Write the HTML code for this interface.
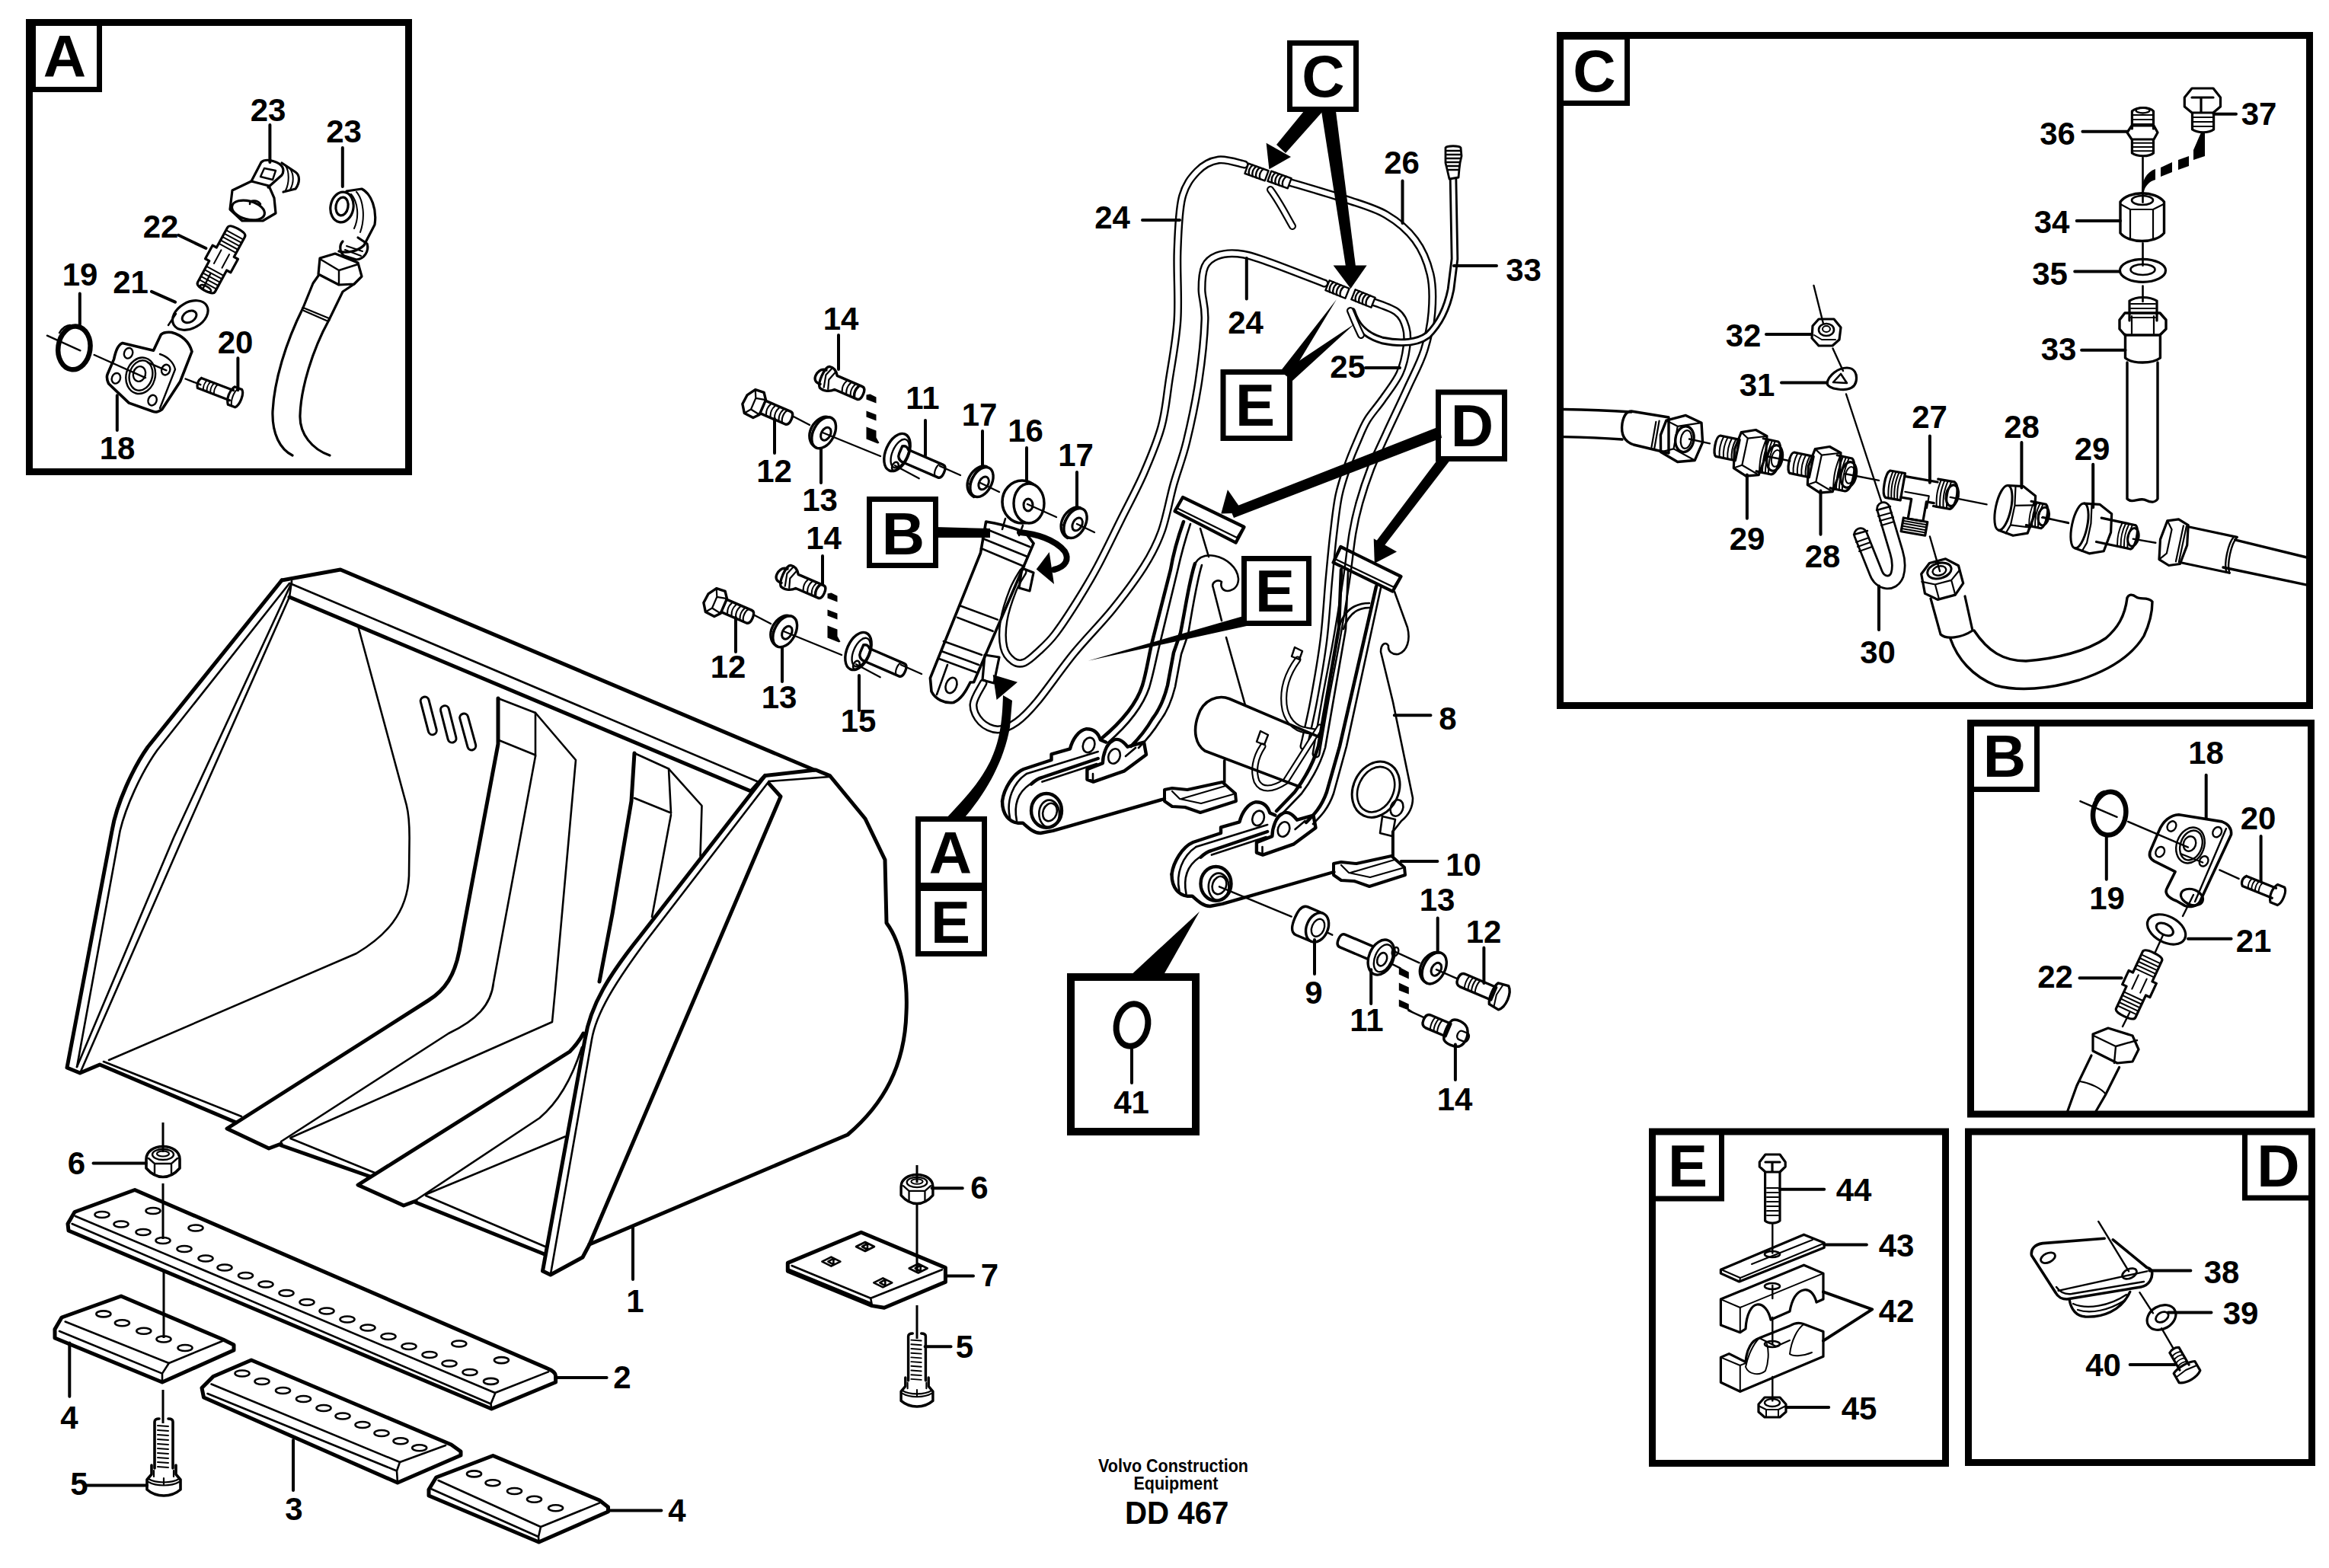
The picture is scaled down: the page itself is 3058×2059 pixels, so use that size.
<!DOCTYPE html>
<html><head><meta charset="utf-8"><style>
html,body{margin:0;padding:0;background:#fff;width:3058px;height:2059px;overflow:hidden}
svg{display:block}
.n text{font-family:"Liberation Sans",sans-serif;font-weight:bold;font-size:42px;text-anchor:middle;fill:#000}
.L text{font-family:"Liberation Sans",sans-serif;font-weight:bold;font-size:78px;text-anchor:middle;fill:#000}
</style></head><body>
<svg width="3058" height="2059" viewBox="0 0 3058 2059" xmlns="http://www.w3.org/2000/svg">
<g fill="none" stroke="#000" stroke-linejoin="round" stroke-linecap="round">
<g id="frames">
<g stroke-width="9" stroke-linejoin="miter" stroke-linecap="butt">
<rect x="38.5" y="29.5" width="498" height="590"/>
<rect x="2048.5" y="46.5" width="984" height="880"/>
<rect x="2587.5" y="949.5" width="447" height="513.5"/>
<rect x="2169.5" y="1486" width="385" height="435.5"/>
<rect x="2584.5" y="1486" width="451" height="434.5"/>
</g>
<rect x="1406" y="1283" width="164" height="203" stroke-width="10" stroke-linejoin="miter"/>
<g stroke-width="7" stroke-linejoin="miter" stroke-linecap="butt">
<rect x="43.5" y="30.5" width="87" height="87"/>
<rect x="1693.5" y="56.5" width="87" height="87"/>
<rect x="2049.5" y="48.5" width="87" height="87"/>
<rect x="1141.5" y="655.5" width="87" height="87"/>
<rect x="1606" y="488.5" width="87.5" height="87"/>
<rect x="1888.5" y="515" width="87" height="87.5"/>
<rect x="1633.5" y="733.5" width="85" height="85"/>
<rect x="1205.5" y="1075.5" width="87" height="87"/>
<rect x="1205.5" y="1166.5" width="87" height="86"/>
<rect x="2588.5" y="950.5" width="86" height="86"/>
<rect x="2169.5" y="1486" width="91" height="88"/>
<rect x="2947.5" y="1486" width="89" height="87"/>
</g>
<g class="L" stroke="none" fill="#000">
<text x="85" y="101">A</text>
<text x="1737.5" y="127">C</text>
<text x="2093.5" y="120">C</text>
<text x="1186" y="728">B</text>
<text x="1648" y="559">E</text>
<text x="1933" y="586">D</text>
<text x="1674" y="803">E</text>
<text x="1248" y="1147">A</text>
<text x="1248" y="1238">E</text>
<text x="2632" y="1020">B</text>
<text x="2216" y="1558">E</text>
<text x="2991.5" y="1558">D</text>
</g>

</g>
<g id="bucket">
<g stroke-width="5">
<path d="M370,762 L447,748 L1069,1011"/>
<path d="M370,762 L194,981 C175,1008 153,1055 147,1091 L88,1402 L105,1409 L131,1398 L310,1474"/>
<path d="M380,784 L986,1039 L1004.5,1018.5 L1071,1011 L1089.5,1018.5 L1136,1075 L1162,1129 L1164,1212 C1185,1240 1192,1290 1190,1330 C1188,1400 1160,1450 1113,1490 L774,1634"/>
<path d="M1004.5,1018.5 L840,1230 C800,1280 775,1320 768,1365 L712.5,1669 L722.8,1674 L765,1651 L774,1634 L1025,1046 L1009.6,1028.8"/>
<path d="M654,917 L654,977 L603,1249 C597,1280 585,1300 562,1314 L298,1482 L353,1508 L369,1502"/>
<path d="M833,989 L829,1052 L804,1200 L787,1289"/>
<path d="M766,1357 C760,1368 755,1374 748,1381 L470,1556 L530,1583 L546,1577"/>
<path d="M369,1504 L486,1545"/>
<path d="M546,1579 L715,1647"/>
</g>
<g stroke-width="2.6">
<path d="M383,767 L994,1026"/>
<path d="M383,763 L380,784"/>
<path d="M380,766 L206.5,985 C185,1015 165,1060 157.6,1091 L101,1401"/>
<path d="M383,765 L228,1100 L101,1401"/>
<path d="M380,784 L240,1100 L106,1407"/>
<path d="M470.6,824 L533.7,1057 C537,1070 537.6,1085 537.6,1100 L537,1150 C535,1200 505,1230 468,1252 L143,1392"/>
<path d="M136,1394 L317,1466"/>
<path d="M654,917 L703,936 L703,993"/>
<path d="M655,972 L703,991.5"/>
<path d="M703,993 L648,1290 C645,1320 625,1340 589,1357 L369,1499"/>
<path d="M703,936 L756,998 L729,1300 L725,1342 L381.5,1494"/>
<path d="M381.5,1495 L492,1540"/>
<path d="M833,989 L878,1009.5 L881,1067.5"/>
<path d="M833,1048 L881,1067.5"/>
<path d="M881,1070 L856,1204"/>
<path d="M764,1375 C750,1420 730,1450 708.6,1468 L546,1576"/>
<path d="M878,1009.5 L921.5,1058 L919.5,1124"/>
<path d="M742,1492.5 L559,1568.5"/>
<path d="M559,1570 L716,1637"/>
<path d="M1009.6,1026 L848,1236 C808,1290 783,1330 777,1365 L722.8,1674"/>
<path d="M1009.6,1026 L1089.5,1020"/>

</g>
<g stroke-width="2.6">
<path d="M557.7,920.6 L567.8,959.3" stroke-width="14"/>
<path d="M584,932.2 L593.5,969.6" stroke-width="14"/>
<path d="M609.2,942.5 L619.3,979.4" stroke-width="14"/>
<path d="M557.7,920.6 L567.8,959.3" stroke-width="8" stroke="#fff"/>
<path d="M584,932.2 L593.5,969.6" stroke-width="8" stroke="#fff"/>
<path d="M609.2,942.5 L619.3,979.4" stroke-width="8" stroke="#fff"/>
</g>

</g>
<g id="edges">
<g stroke-width="5">
<path d="M98,1591.5 L177,1562.5 L718,1796.6 Q729.6,1801 729.6,1807 L729.6,1815 L645.4,1850 L90,1616 L89,1607 Z"/>
<path d="M81,1730 L159,1702 L293,1759 L307,1766 L307,1773 L213,1815 L72,1757 L72,1745.5 Z"/>
<path d="M280,1807.5 L330,1786 L592.5,1897 L605,1906 L605,1911 L522,1947 L267.5,1835 L265,1822.5 Z"/>
<path d="M572.7,1940 L647.3,1911.5 L787,1970 L798.5,1979 L798.5,1985 L707.5,2025 L563,1964 L563,1956 Z"/>
<path d="M1034.3,1658.4 L1130.7,1618.2 L1241.4,1664.6 L1241.4,1683.4 L1161,1717.3 L1145,1714.6 L1034.3,1669.1 Z"/>
</g>
<g stroke-width="2.6">
<path d="M99,1597 L650,1829 L720,1801.4 M650,1830 L644.5,1843.5 L645.4,1850 M94.6,1607 L644.5,1843.5"/>
<path d="M85.7,1735.5 L221.8,1790 L292,1761 M221.8,1790 L213,1803.6 L213,1815 M78,1748 L213,1803.6"/>
<path d="M277.5,1817.5 L525,1920 L585,1898 M525,1920 L521,1931.5 L522,1947 M272.5,1830 L521,1931.5"/>
<path d="M575.6,1944 L710,2005 L787,1973.6 M710,2005 L707,2018 L707.5,2025 M567,1955.5 L707,2018"/>
<path d="M1039.6,1662 L1143.2,1704.8 L1237,1667.3 M1143.2,1704.8 L1145,1714.6 M1036,1667 L1143,1711"/>
</g>
<g stroke-width="2.6">
<ellipse cx="134" cy="1595" rx="9.5" ry="4"/>
<ellipse cx="159" cy="1607.5" rx="9.5" ry="4"/>
<ellipse cx="188" cy="1618" rx="9.5" ry="4"/>
<ellipse cx="214" cy="1629" rx="9.5" ry="4"/>
<ellipse cx="242" cy="1640" rx="9.5" ry="4"/>
<ellipse cx="270" cy="1652.5" rx="9.5" ry="4"/>
<ellipse cx="295" cy="1664.5" rx="9.5" ry="4"/>
<ellipse cx="322.5" cy="1675" rx="9.5" ry="4"/>
<ellipse cx="349" cy="1686.5" rx="9.5" ry="4"/>
<ellipse cx="376" cy="1698" rx="9.5" ry="4"/>
<ellipse cx="403" cy="1710" rx="9.5" ry="4"/>
<ellipse cx="429" cy="1721.5" rx="9.5" ry="4"/>
<ellipse cx="456" cy="1732.5" rx="9.5" ry="4"/>
<ellipse cx="483" cy="1743.5" rx="9.5" ry="4"/>
<ellipse cx="510" cy="1755" rx="9.5" ry="4"/>
<ellipse cx="537" cy="1768" rx="9.5" ry="4"/>
<ellipse cx="564" cy="1779" rx="9.5" ry="4"/>
<ellipse cx="590" cy="1790.5" rx="9.5" ry="4"/>
<ellipse cx="617" cy="1802" rx="9.5" ry="4"/>
<ellipse cx="644.5" cy="1813.9" rx="9.5" ry="4"/>
<ellipse cx="201" cy="1590" rx="9.5" ry="4"/>
<ellipse cx="257" cy="1612.5" rx="9.5" ry="4"/>
<ellipse cx="602.8" cy="1764.5" rx="9.5" ry="4"/>
<ellipse cx="658.4" cy="1786.1" rx="9.5" ry="4"/>
<ellipse cx="135.9" cy="1725.4" rx="9.5" ry="4"/>
<ellipse cx="160.4" cy="1737.3" rx="9.5" ry="4"/>
<ellipse cx="188.8" cy="1747.8" rx="9.5" ry="4"/>
<ellipse cx="215" cy="1758.5" rx="9.5" ry="4"/>
<ellipse cx="243" cy="1770" rx="9.5" ry="4"/>
<ellipse cx="318" cy="1803.5" rx="9.5" ry="4"/>
<ellipse cx="344" cy="1814" rx="9.5" ry="4"/>
<ellipse cx="371.5" cy="1826" rx="9.5" ry="4"/>
<ellipse cx="398.5" cy="1837" rx="9.5" ry="4"/>
<ellipse cx="425" cy="1849" rx="9.5" ry="4"/>
<ellipse cx="450" cy="1859.5" rx="9.5" ry="4"/>
<ellipse cx="476" cy="1871" rx="9.5" ry="4"/>
<ellipse cx="501" cy="1882" rx="9.5" ry="4"/>
<ellipse cx="526" cy="1892.3" rx="9.5" ry="4"/>
<ellipse cx="550.7" cy="1901.3" rx="9.5" ry="4"/>
<ellipse cx="622.5" cy="1935.4" rx="9.5" ry="4"/>
<ellipse cx="647" cy="1947.2" rx="9.5" ry="4"/>
<ellipse cx="675.5" cy="1958" rx="9.5" ry="4"/>
<ellipse cx="701.5" cy="1968.8" rx="9.5" ry="4"/>
<ellipse cx="729.6" cy="1980.3" rx="9.5" ry="4"/>
</g>
<path stroke-width="2.6" d="M1124,1637 L1136,1631 L1148,1637 L1136,1643 Z M1132,1637 L1139,1633 L1139,1641 Z"/>
<path stroke-width="2.6" d="M1079.4,1656.6 L1091.4,1650.6 L1103.4,1656.6 L1091.4,1662.6 Z M1087.4,1656.6 L1094.4,1652.6 L1094.4,1660.6 Z"/>
<path stroke-width="2.6" d="M1147.3,1684.3 L1159.3,1678.3 L1171.3,1684.3 L1159.3,1690.3 Z M1155.3,1684.3 L1162.3,1680.3 L1162.3,1688.3 Z"/>
<path stroke-width="2.6" d="M1193.7,1665.5 L1205.7,1659.5 L1217.7,1665.5 L1205.7,1671.5 Z M1201.7,1665.5 L1208.7,1661.5 L1208.7,1669.5 Z"/>
<g transform="translate(214,1525) scale(1.0)">
<path stroke-width="3.6" d="M-22,-3 L-22,9 C-15,17 -7,20.5 0,20.5 C7,20.5 15,17 22,9 L22,-3 C22,-13 12,-19.5 0,-19.5 C-12,-19.5 -22,-13 -22,-3 Z"/>
<path stroke-width="2.4" d="M-19,-4 L-11,3 L11,3 L19,-4 M-11,3 L-11,16 M11,3 L11,16"/>
<ellipse stroke-width="2.4" cx="0" cy="-9" rx="14" ry="7"/>
<ellipse stroke-width="2.2" cx="0" cy="-10" rx="8" ry="3.5"/>
</g>
<g transform="translate(215,1864) scale(1.0)">
<path stroke-width="3.6" d="M-12,3 Q-12,-1 -6,-1 M6,-1 Q12,-1 12,3 M-12,3 L-12,64 M12,3 L12,64"/>
<path stroke-width="2" d="M-8,8 L6,9 M-8,14 L6,15 M-8,20 L6,21 M-8,26 L6,27 M-8,32 L6,33 M-8,38 L6,39 M-8,44 L6,45 M-8,50 L6,51 M-8,56 L6,57 M-8,62 L6,63 "/>
<path stroke-width="3.6" d="M-16,60 L-16,72 L-22,79 L-22,92 C-14,99 -7,100 0,100 C7,100 14,99 22,92 L22,79 L16,72 L16,60"/>
<path stroke-width="2.2" d="M-20,82 C-10,88 10,88 20,82 M-20,78 C-10,84 10,84 20,78 M0,77 L0,86 M-13,67 L-13,75 M13,67 L13,75"/>
</g>
<g transform="translate(1204,1561) scale(0.95)">
<path stroke-width="3.6" d="M-22,-3 L-22,9 C-15,17 -7,20.5 0,20.5 C7,20.5 15,17 22,9 L22,-3 C22,-13 12,-19.5 0,-19.5 C-12,-19.5 -22,-13 -22,-3 Z"/>
<path stroke-width="2.4" d="M-19,-4 L-11,3 L11,3 L19,-4 M-11,3 L-11,16 M11,3 L11,16"/>
<ellipse stroke-width="2.4" cx="0" cy="-9" rx="14" ry="7"/>
<ellipse stroke-width="2.2" cx="0" cy="-10" rx="8" ry="3.5"/>
</g>
<g transform="translate(1204,1752) scale(0.95)">
<path stroke-width="3.6" d="M-12,3 Q-12,-1 -6,-1 M6,-1 Q12,-1 12,3 M-12,3 L-12,64 M12,3 L12,64"/>
<path stroke-width="2" d="M-8,8 L6,9 M-8,14 L6,15 M-8,20 L6,21 M-8,26 L6,27 M-8,32 L6,33 M-8,38 L6,39 M-8,44 L6,45 M-8,50 L6,51 M-8,56 L6,57 M-8,62 L6,63 "/>
<path stroke-width="3.6" d="M-16,60 L-16,72 L-22,79 L-22,92 C-14,99 -7,100 0,100 C7,100 14,99 22,92 L22,79 L16,72 L16,60"/>
<path stroke-width="2.2" d="M-20,82 C-10,88 10,88 20,82 M-20,78 C-10,84 10,84 20,78 M0,77 L0,86 M-13,67 L-13,75 M13,67 L13,75"/>
</g>
<g stroke-width="3" stroke-linecap="butt">
<path d="M214,1474 L214,1513 M214,1554 L214,1627 M215,1670 L215,1757 M214,1825 L214,1869"/>
<path d="M1204,1530 L1204,1553 M1204,1581 L1204,1670 M1204,1714 L1204,1758"/>
</g>
<g stroke-width="4">
<path d="M122.5,1527.5 L191.7,1527.5 M91.3,1763.4 L91.3,1833.7 M114,1950.5 L193,1950.5 M729.6,1809 L796.6,1809 M798.5,1983.6 L868.4,1983.6 M385,1891 L385,1957"/>
<path d="M1223.6,1560.2 L1263.8,1560.2 M1241.4,1675.4 L1278,1675.4 M1214.6,1768.2 L1248.6,1768.2 M831,1612 L831,1680"/>
</g>
</g>
<g id="coupler">
<path d="M1634.0,216.0 C1628.3,215.0 1610.3,208.5 1600.0,210.0 C1589.7,211.5 1580.0,216.7 1572.0,225.0 C1564.0,233.3 1556.3,242.5 1552.0,260.0 C1547.7,277.5 1547.0,303.3 1546.0,330.0 C1545.0,356.7 1547.8,391.7 1546.0,420.0 C1544.2,448.3 1538.5,476.7 1535.0,500.0 C1531.5,523.3 1530.5,539.8 1525.0,560.0 C1519.5,580.2 1510.8,600.7 1502.0,621.0 C1493.2,641.3 1482.2,661.5 1472.0,682.0 C1461.8,702.5 1450.7,726.0 1441.0,744.0 C1431.3,762.0 1423.3,775.2 1414.0,790.0 C1404.7,804.8 1393.3,822.2 1385.0,833.0 C1376.7,843.8 1370.7,848.8 1364.0,855.0 C1357.3,861.2 1350.7,867.8 1345.0,870.0 C1339.3,872.2 1334.5,871.3 1330.0,868.0 C1325.5,864.7 1320.0,858.8 1318.0,850.0 C1316.0,841.2 1316.0,827.5 1318.0,815.0 C1320.0,802.5 1325.8,785.7 1330.0,775.0 C1334.2,764.3 1340.8,755.0 1343.0,751.0" stroke-width="11"/>
<path d="M1634.0,216.0 C1628.3,215.0 1610.3,208.5 1600.0,210.0 C1589.7,211.5 1580.0,216.7 1572.0,225.0 C1564.0,233.3 1556.3,242.5 1552.0,260.0 C1547.7,277.5 1547.0,303.3 1546.0,330.0 C1545.0,356.7 1547.8,391.7 1546.0,420.0 C1544.2,448.3 1538.5,476.7 1535.0,500.0 C1531.5,523.3 1530.5,539.8 1525.0,560.0 C1519.5,580.2 1510.8,600.7 1502.0,621.0 C1493.2,641.3 1482.2,661.5 1472.0,682.0 C1461.8,702.5 1450.7,726.0 1441.0,744.0 C1431.3,762.0 1423.3,775.2 1414.0,790.0 C1404.7,804.8 1393.3,822.2 1385.0,833.0 C1376.7,843.8 1370.7,848.8 1364.0,855.0 C1357.3,861.2 1350.7,867.8 1345.0,870.0 C1339.3,872.2 1334.5,871.3 1330.0,868.0 C1325.5,864.7 1320.0,858.8 1318.0,850.0 C1316.0,841.2 1316.0,827.5 1318.0,815.0 C1320.0,802.5 1325.8,785.7 1330.0,775.0 C1334.2,764.3 1340.8,755.0 1343.0,751.0" stroke="#fff" stroke-width="6.2"/>
<path d="M1689.0,238.0 C1702.2,242.0 1746.2,254.7 1768.0,262.0 C1789.8,269.3 1805.0,273.2 1820.0,282.0 C1835.0,290.8 1848.3,302.0 1858.0,315.0 C1867.7,328.0 1874.3,344.2 1878.0,360.0 C1881.7,375.8 1881.3,393.3 1880.0,410.0 C1878.7,426.7 1875.3,443.3 1870.0,460.0 C1864.7,476.7 1856.3,491.7 1848.0,510.0 C1839.7,528.3 1828.0,552.5 1820.0,570.0 C1812.0,587.5 1805.8,600.0 1800.0,615.0 C1794.2,630.0 1789.0,645.8 1785.0,660.0 C1781.0,674.2 1778.8,683.3 1776.0,700.0 C1773.2,716.7 1771.5,736.7 1768.0,760.0 C1764.5,783.3 1759.7,813.3 1755.0,840.0 C1750.3,866.7 1744.5,895.0 1740.0,920.0 C1735.5,945.0 1730.0,978.3 1728.0,990.0" stroke-width="11"/>
<path d="M1689.0,238.0 C1702.2,242.0 1746.2,254.7 1768.0,262.0 C1789.8,269.3 1805.0,273.2 1820.0,282.0 C1835.0,290.8 1848.3,302.0 1858.0,315.0 C1867.7,328.0 1874.3,344.2 1878.0,360.0 C1881.7,375.8 1881.3,393.3 1880.0,410.0 C1878.7,426.7 1875.3,443.3 1870.0,460.0 C1864.7,476.7 1856.3,491.7 1848.0,510.0 C1839.7,528.3 1828.0,552.5 1820.0,570.0 C1812.0,587.5 1805.8,600.0 1800.0,615.0 C1794.2,630.0 1789.0,645.8 1785.0,660.0 C1781.0,674.2 1778.8,683.3 1776.0,700.0 C1773.2,716.7 1771.5,736.7 1768.0,760.0 C1764.5,783.3 1759.7,813.3 1755.0,840.0 C1750.3,866.7 1744.5,895.0 1740.0,920.0 C1735.5,945.0 1730.0,978.3 1728.0,990.0" stroke="#fff" stroke-width="6.2"/>
<path d="M1739.0,372.0 C1725.8,367.0 1679.0,348.5 1660.0,342.0 C1641.0,335.5 1635.3,334.0 1625.0,333.0 C1614.7,332.0 1605.2,333.2 1598.0,336.0 C1590.8,338.8 1585.3,342.7 1582.0,350.0 C1578.7,357.3 1578.0,368.3 1578.0,380.0 C1578.0,391.7 1582.7,400.0 1582.0,420.0 C1581.3,440.0 1578.0,473.3 1574.0,500.0 C1570.0,526.7 1563.5,557.3 1558.0,580.0 C1552.5,602.7 1546.5,616.3 1541.0,636.0 C1535.5,655.7 1531.5,680.0 1525.0,698.0 C1518.5,716.0 1512.7,727.0 1502.0,744.0 C1491.3,761.0 1476.3,781.0 1461.0,800.0 C1445.7,819.0 1426.5,837.8 1410.0,858.0 C1393.5,878.2 1374.5,906.0 1362.0,921.0 C1349.5,936.0 1343.7,941.8 1335.0,948.0 C1326.3,954.2 1317.8,958.0 1310.0,958.0 C1302.2,958.0 1293.3,953.5 1288.0,948.0 C1282.7,942.5 1277.5,933.5 1278.0,925.0 C1278.5,916.5 1288.8,901.7 1291.0,897.0" stroke-width="11"/>
<path d="M1739.0,372.0 C1725.8,367.0 1679.0,348.5 1660.0,342.0 C1641.0,335.5 1635.3,334.0 1625.0,333.0 C1614.7,332.0 1605.2,333.2 1598.0,336.0 C1590.8,338.8 1585.3,342.7 1582.0,350.0 C1578.7,357.3 1578.0,368.3 1578.0,380.0 C1578.0,391.7 1582.7,400.0 1582.0,420.0 C1581.3,440.0 1578.0,473.3 1574.0,500.0 C1570.0,526.7 1563.5,557.3 1558.0,580.0 C1552.5,602.7 1546.5,616.3 1541.0,636.0 C1535.5,655.7 1531.5,680.0 1525.0,698.0 C1518.5,716.0 1512.7,727.0 1502.0,744.0 C1491.3,761.0 1476.3,781.0 1461.0,800.0 C1445.7,819.0 1426.5,837.8 1410.0,858.0 C1393.5,878.2 1374.5,906.0 1362.0,921.0 C1349.5,936.0 1343.7,941.8 1335.0,948.0 C1326.3,954.2 1317.8,958.0 1310.0,958.0 C1302.2,958.0 1293.3,953.5 1288.0,948.0 C1282.7,942.5 1277.5,933.5 1278.0,925.0 C1278.5,916.5 1288.8,901.7 1291.0,897.0" stroke="#fff" stroke-width="6.2"/>
<path d="M1796.0,394.0 C1802.2,396.5 1824.7,403.0 1833.0,409.0 C1841.3,415.0 1843.7,422.3 1846.0,430.0 C1848.3,437.7 1848.3,445.0 1847.0,455.0 C1845.7,465.0 1843.3,478.3 1838.0,490.0 C1832.7,501.7 1822.2,514.7 1815.0,525.0 C1807.8,535.3 1800.5,542.8 1795.0,552.0 C1789.5,561.2 1786.2,570.3 1782.0,580.0 C1777.8,589.7 1774.0,598.3 1770.0,610.0 C1766.0,621.7 1761.2,635.0 1758.0,650.0 C1754.8,665.0 1753.2,681.7 1751.0,700.0 C1748.8,718.3 1747.2,736.7 1745.0,760.0 C1742.8,783.3 1741.3,813.3 1738.0,840.0 C1734.7,866.7 1729.3,896.7 1725.0,920.0 C1720.7,943.3 1714.2,970.0 1712.0,980.0" stroke-width="11"/>
<path d="M1796.0,394.0 C1802.2,396.5 1824.7,403.0 1833.0,409.0 C1841.3,415.0 1843.7,422.3 1846.0,430.0 C1848.3,437.7 1848.3,445.0 1847.0,455.0 C1845.7,465.0 1843.3,478.3 1838.0,490.0 C1832.7,501.7 1822.2,514.7 1815.0,525.0 C1807.8,535.3 1800.5,542.8 1795.0,552.0 C1789.5,561.2 1786.2,570.3 1782.0,580.0 C1777.8,589.7 1774.0,598.3 1770.0,610.0 C1766.0,621.7 1761.2,635.0 1758.0,650.0 C1754.8,665.0 1753.2,681.7 1751.0,700.0 C1748.8,718.3 1747.2,736.7 1745.0,760.0 C1742.8,783.3 1741.3,813.3 1738.0,840.0 C1734.7,866.7 1729.3,896.7 1725.0,920.0 C1720.7,943.3 1714.2,970.0 1712.0,980.0" stroke="#fff" stroke-width="6.2"/>
<path d="M1775,409 C1780,425 1790,440 1815,447 C1840,452 1862,450 1875,440 C1890,425 1900,405 1905,380 L1910,340 L1908,234" stroke-width="10.5"/>
<path d="M1775,409 C1780,425 1790,440 1815,447 C1840,452 1862,450 1875,440 C1890,425 1900,405 1905,380 L1910,340 L1908,234" stroke="#fff" stroke-width="4.8"/>
<path d="M1668,249 C1680,265 1690,285 1697,297" stroke-width="10"/>
<path d="M1668,249 C1680,265 1690,285 1697,297" stroke="#fff" stroke-width="5.6"/>
<path d="M1773,408 C1778,420 1782,430 1787,440" stroke-width="10"/>
<path d="M1773,408 C1778,420 1782,430 1787,440" stroke="#fff" stroke-width="5.6"/>
<path d="M1704,866 C1690,885 1684,905 1686,925 C1688,945 1700,957 1715,959 L1732,962" stroke-width="9"/>
<path d="M1704,866 C1690,885 1684,905 1686,925 C1688,945 1700,957 1715,959 L1732,962" stroke="#fff" stroke-width="4.8"/>
<path d="M1658,980 C1648,995 1645,1012 1650,1026 C1656,1038 1670,1038 1688,1026 L1733,955" stroke-width="9"/>
<path d="M1658,980 C1648,995 1645,1012 1650,1026 C1656,1038 1670,1038 1688,1026 L1733,955" stroke="#fff" stroke-width="4.8"/>
<g stroke-width="2.4">
<g transform="translate(1650,226) rotate(20)"><rect x="-14" y="-7" width="28" height="14" fill="#fff"/><path d="M-8,-7 C-11,-3 -11,3 -8,7 M-3,-7 C-6,-3 -6,3 -3,7 M2,-7 C-1,-3 -1,3 2,7 M7,-7 C4,-3 4,3 7,7"/></g>
<g transform="translate(1680,236) rotate(20)"><rect x="-14" y="-7" width="28" height="14" fill="#fff"/><path d="M-8,-7 C-11,-3 -11,3 -8,7 M-3,-7 C-6,-3 -6,3 -3,7 M2,-7 C-1,-3 -1,3 2,7 M7,-7 C4,-3 4,3 7,7"/></g>
<g transform="translate(1756,380) rotate(22)"><rect x="-14" y="-7" width="28" height="14" fill="#fff"/><path d="M-8,-7 C-11,-3 -11,3 -8,7 M-3,-7 C-6,-3 -6,3 -3,7 M2,-7 C-1,-3 -1,3 2,7 M7,-7 C4,-3 4,3 7,7"/></g>
<g transform="translate(1790,392) rotate(22)"><rect x="-14" y="-7" width="28" height="14" fill="#fff"/><path d="M-8,-7 C-11,-3 -11,3 -8,7 M-3,-7 C-6,-3 -6,3 -3,7 M2,-7 C-1,-3 -1,3 2,7 M7,-7 C4,-3 4,3 7,7"/></g>
<path stroke-width="2.8" fill="#fff" d="M1898,194 C1900,191 1916,191 1918,194 L1919,205 L1917,214 L1916,222 L1915,233 L1903,235 L1900,222 L1898,214 Z"/>
<path stroke-width="2.6" d="M1900,198 L1917,198 M1900,203 L1917,203 M1900,208 L1917,208 M1900,213 L1916,213 M1901,218 L1915,218 M1902,223 L1914,223"/>
<path d="M1700,850 L1710,855 L1706,866 L1696,862 Z M1655,960 L1665,965 L1660,978 L1650,974 Z"/>
</g>
<g stroke-width="4.5">
<path d="M1554,685 C1545,710 1540,730 1537,748 L1513,842 C1508,862 1506,880 1500,900 C1492,925 1470,950 1446,970"/>
<path d="M1569,740 C1562,760 1558,790 1550,831 L1541,857 L1533,900 C1528,920 1520,935 1513,944 C1505,958 1495,970 1485,980"/>
<path d="M1807,770 L1759,980 L1742,1040 C1735,1060 1725,1070 1715,1080"/>
<path d="M1761,748 L1758,824 L1731,980 C1725,1000 1715,1020 1700,1040 L1676,1065"/>
</g>
<g stroke-width="2.6">
<path d="M1563,688 C1555,712 1550,732 1546,750 L1523,845 C1518,865 1515,883 1509,903 C1500,930 1478,955 1455,975"/>
<path d="M1578,742 C1571,765 1567,792 1560,833 L1551,859 L1543,902 C1538,922 1530,938 1523,947 C1515,960 1505,972 1495,982"/>
<path d="M1813,772 L1768,980 L1751,1042 C1744,1062 1734,1072 1724,1082"/>
<path d="M1770,750 L1767,826 L1740,982 C1734,1002 1724,1022 1709,1042 L1685,1067"/>
<path d="M1569,740 C1575,730 1585,728 1595,730 C1610,733 1625,745 1626,760 C1626,770 1620,775 1612,776 C1605,776 1602,770 1604,764 C1598,760 1590,765 1593,772 L1604,815"/>
<path d="M1758,824 C1765,800 1780,792 1798,792"/>
<path d="M1764,826 C1771,804 1784,798 1798,798"/>
<path d="M1831,777 L1848,824 C1852,840 1848,855 1836,859 C1828,860 1822,855 1823,848 C1820,842 1813,845 1813,856 L1829,922 L1855,1048 C1855,1060 1850,1070 1840,1078 L1829,1092"/>
<path d="M1576,694 L1587,731 M1610,837 L1635,926"/>
</g>
<g stroke-width="4.2">
<path d="M1553,653 L1542.5,671.4 L1622.7,712.6 L1633.6,692 Z"/>
<path d="M1760.3,718 L1750.6,738.7 L1828.6,776.6 L1839.5,757 Z"/>
</g>
<path stroke-width="2.2" d="M1545,667 L1624,706 L1632,693 M1753,734 L1830,771 L1838,758"/>
<g stroke-width="3.6">
<path d="M1733.5,968.4 L1614,917.5 C1600,912 1580,918 1573,940 C1566,960 1570,978 1582,986 L1707.4,1033.5 M1607.7,999 L1607.7,1027"/>
</g>
<g transform="translate(1378,1066)"><g stroke-width="4.4">
<path d="M-62,-14 C-60,-30 -48,-50 -34,-56 L2.5,-68 L2.5,-75.6 L27,-82.7 C30,-95 38,-107 48.4,-108.8 C58,-109 64,-104 66.8,-94.5 L73.9,-91.4"/>
<path d="M-62,-14 C-62,5 -52,13 -42,14.7 L-35,14.7 C-26,23 -20,28 -11.8,28 L4.6,24.9 L151,-17"/>
<path d="M-24,-36.3 C-18,-42 -14,-44 -10,-45 L63.7,-70"/>
<path d="M49.4,-55.7 L49.4,-42.4 L57.6,-39.4 L98.4,-53.7 L127,-75 L124,-91.4 L102.5,-85.3 C95,-95 88,-97 83.1,-93.4 C75,-90 70,-75 69.9,-63.9 L49.4,-55.7 Z"/>
<ellipse cx="-4" cy="-1.6" rx="20" ry="22.4"/>
</g>
<g stroke-width="2.6">
<path d="M-30,-50 L63.7,-79"/>
<path d="M-9.6,-39.4 L62,-63"/>
<path d="M-52,8 C-57,-15 -48,-38 -30,-50"/>
<path d="M-43,12 C-47,-8 -42,-25 -26,-36"/>
<ellipse cx="-0.4" cy="2.5" rx="13.3" ry="17.9"/>
<ellipse cx="0.5" cy="0.5" rx="9" ry="12" transform="rotate(20 0.5 0.5)"/>
<ellipse cx="51.6" cy="-87.6" rx="7.5" ry="10" transform="rotate(20 51.6 -87.6)"/>
<ellipse cx="85" cy="-73" rx="7.5" ry="10" transform="rotate(20 85 -73)"/>
<path d="M113,-84 L100,-73 M57,-39 L57,-50"/>
</g></g>
<g transform="translate(1600.5,1162)"><g stroke-width="4.4">
<path d="M-62,-14 C-60,-30 -48,-50 -34,-56 L2.5,-68 L2.5,-75.6 L27,-82.7 C30,-95 38,-107 48.4,-108.8 C58,-109 64,-104 66.8,-94.5 L73.9,-91.4"/>
<path d="M-62,-14 C-62,5 -52,13 -42,14.7 L-35,14.7 C-26,23 -20,28 -11.8,28 L4.6,24.9 L151,-17"/>
<path d="M-24,-36.3 C-18,-42 -14,-44 -10,-45 L63.7,-70"/>
<path d="M49.4,-55.7 L49.4,-42.4 L57.6,-39.4 L98.4,-53.7 L127,-75 L124,-91.4 L102.5,-85.3 C95,-95 88,-97 83.1,-93.4 C75,-90 70,-75 69.9,-63.9 L49.4,-55.7 Z"/>
<ellipse cx="-4" cy="-1.6" rx="20" ry="22.4"/>
</g>
<g stroke-width="2.6">
<path d="M-30,-50 L63.7,-79"/>
<path d="M-9.6,-39.4 L62,-63"/>
<path d="M-52,8 C-57,-15 -48,-38 -30,-50"/>
<path d="M-43,12 C-47,-8 -42,-25 -26,-36"/>
<ellipse cx="-0.4" cy="2.5" rx="13.3" ry="17.9"/>
<ellipse cx="0.5" cy="0.5" rx="9" ry="12" transform="rotate(20 0.5 0.5)"/>
<ellipse cx="51.6" cy="-87.6" rx="7.5" ry="10" transform="rotate(20 51.6 -87.6)"/>
<ellipse cx="85" cy="-73" rx="7.5" ry="10" transform="rotate(20 85 -73)"/>
<path d="M113,-84 L100,-73 M57,-39 L57,-50"/>
</g></g>
<g transform="translate(1529,1037)"><path stroke-width="4" d="M0,0 L0,15 L10,22 L27,23 L47,30 L94,15 L93,5 L76,-10 L30,0 L10,-2 Z"/><path stroke-width="2.2" d="M10,2 L20,12 L48,18 L90,6 M22,12 L80,-5"/></g>
<g transform="translate(1751,1134)"><path stroke-width="4" d="M0,0 L0,15 L10,22 L27,23 L47,30 L94,15 L93,5 L76,-10 L30,0 L10,-2 Z"/><path stroke-width="2.2" d="M10,2 L20,12 L48,18 L90,6 M22,12 L80,-5"/></g>
<ellipse stroke-width="3" cx="1806.6" cy="1036.7" rx="29.8" ry="37.9" transform="rotate(25 1806.6 1036.7)"/>
<ellipse stroke-width="2.6" cx="1806.6" cy="1036.7" rx="23" ry="31" transform="rotate(25 1806.6 1036.7)"/>
<ellipse stroke-width="2.6" cx="1834" cy="1061" rx="8" ry="11" transform="rotate(20 1834 1061)"/>
<path stroke-width="2.6" d="M1815,1072 L1832,1076 L1828,1098 L1812,1094 Z"/>
<g stroke="none" fill="#000">
<path d="M1712,146 L1737,146 L1688,201 L1676,190 Z"/><path d="M1662.6,187.8 L1695,206 L1666.4,222.3 Z"/>
<path d="M1735,146 L1754,146 L1780,350 L1767,350 Z"/><path d="M1750.6,348.5 L1794.6,348.5 L1773.5,379 Z"/>
<path d="M1680,489 L1697,489 L1755,393 Z"/><path d="M1683,489 L1697,500 L1779,425 Z"/>
<path d="M1890,560 L1893,575 L1620,680 L1615,668 Z"/><path d="M1611.9,642.9 L1633,673.5 L1603.3,674.4 Z"/>
<path d="M1888,603 L1905,603 L1815,720 L1806,712 Z"/><path d="M1803.7,707.2 L1834,724.6 L1804.8,739.7 Z"/>
<path d="M1636.8,822 L1636,808 L1428.7,867.7 Z"/>
<path d="M1228,692 L1300,694 L1300,706 L1228,706 Z"/>
</g>
<g stroke-width="4">
<path d="M1500,289 L1549,289 M1841.5,237.6 L1841.5,293 M1636.8,339 L1636.8,392.5 M1830.8,939.2 L1878.5,939.2 M1793,483 L1838,483 M1909,349 L1965,349"/>
<path d="M1828.9,1092 L1828.9,1124.5 M1839.7,1131 L1887.4,1131"/>
</g>
</g>
<g id="center">
<g transform="translate(0,0)">
<g transform="translate(996,532) rotate(23.4)">
<path stroke-width="3.4" d="M-19,-6 L-12,-17 L0,-18 L6,-10 L6,11 L0,18 L-13,17 L-20,7 Z"/>
<path stroke-width="2.2" d="M-12,-17 L-7,-7 L-7,9 L-13,17 M-7,-7 L6,-10 M-7,9 L6,11"/>
<path stroke-width="3.4" d="M6,-9 L42,-9 C46,-9 47,-4 47,0 C47,4 46,9 42,9 L6,9"/>
<path stroke-width="2.2" d="M38,-9 C34,-5 34,5 38,9 M14,-7 C12,-3 12,3 14,7 M20,-7 C18,-3 18,3 20,7 M26,-7 C24,-3 24,3 26,7 M32,-7 C30,-3 30,3 32,7 "/>
</g>
<g transform="translate(1081.7,568.3) rotate(28)">
<ellipse stroke-width="3.4" cx="0" cy="0" rx="13.64" ry="22"/>
<path stroke-width="3.4" d="M-4,-21 C-14,-19 -19,-5 -17,6 C-15,16 -8,22 0,22"/>
<path stroke-width="2" d="M-8,-18 C-14,-12 -15,0 -13,10"/>
<ellipse stroke-width="3" cx="3" cy="0" rx="6" ry="9"/>
</g>
<g transform="translate(1092,500) rotate(23.4)">
<path stroke-width="3.4" d="M-12,-10 C-20,-10 -22,-2 -22,2 C-22,8 -18,11 -12,10 M-10,-16 C-2,-18 2,-12 4,-9 L40,-9 C44,-9 45,-4 45,0 C45,4 44,9 40,9 L8,9 C4,14 -4,17 -10,15 C-16,12 -16,-14 -10,-16 Z"/>
<path stroke-width="2.2" d="M-6,-15 L-10,-4 L-6,12 M0,-12 L-4,0 L0,12 M36,-9 C32,-5 32,5 36,9 M18,-7 C16,-3 16,3 18,7 M24,-7 C22,-3 22,3 24,7 M30,-7 C28,-3 28,3 30,7 M36,-7 C34,-3 34,3 36,7 "/>
</g>
<g transform="translate(1178,594) rotate(23.4)">
<ellipse stroke-width="3.4" cx="0" cy="0" rx="15" ry="26"/>
<ellipse stroke-width="2.4" cx="4" cy="0" rx="10" ry="20"/>
<path stroke-width="3.4" d="M3,-10 C8,-14 12,-9 12,-9 L62,-9 C66,-9 67,-4 67,0 C67,4 66,9 62,9 L12,9 C6,9 3,5 3,0 Z"/>
<path stroke-width="2.2" d="M58,-9 C54,-5 54,5 58,9 M4,17 L40,20"/>
<ellipse stroke-width="2.6" cx="5" cy="18" rx="4" ry="6"/>
</g>
<g transform="translate(1137.5,518.4)" stroke="none" fill="#000">
<path d="M0,0 L5,-1 L13,3 L13,11 L0,6 Z"/><path d="M0,21 L13,26 L13,34 L0,29 Z"/><path d="M0,42 L13,47 L13,56 L17,63 L15,64 L0,58 Z"/>
</g>
<path stroke-width="2.4" d="M1040,546 L1063,558 M1080,568 L1156,599 M1234,612 L1261,624"/>
<path stroke-width="4" d="M1017,550 L1017,595 M1078,589 L1078,634"/>
<path stroke-width="4" d="M1215,552 L1215,598"/>
<g transform="translate(1289,633) rotate(28)">
<ellipse stroke-width="3.4" cx="0" cy="0" rx="13.02" ry="21"/>
<path stroke-width="3.4" d="M-4,-21 C-14,-19 -19,-5 -17,6 C-15,16 -8,22 0,22"/>
<path stroke-width="2" d="M-8,-18 C-14,-12 -15,0 -13,10"/>
<ellipse stroke-width="3" cx="3" cy="0" rx="6" ry="9"/>
</g>
<path stroke-width="4" d="M1290,566 L1290,611 M1348,588 L1348,632 M1414,620 L1414,665"/>
</g>
<g transform="translate(-51,261)">
<g transform="translate(996,532) rotate(23.4)">
<path stroke-width="3.4" d="M-19,-6 L-12,-17 L0,-18 L6,-10 L6,11 L0,18 L-13,17 L-20,7 Z"/>
<path stroke-width="2.2" d="M-12,-17 L-7,-7 L-7,9 L-13,17 M-7,-7 L6,-10 M-7,9 L6,11"/>
<path stroke-width="3.4" d="M6,-9 L42,-9 C46,-9 47,-4 47,0 C47,4 46,9 42,9 L6,9"/>
<path stroke-width="2.2" d="M38,-9 C34,-5 34,5 38,9 M14,-7 C12,-3 12,3 14,7 M20,-7 C18,-3 18,3 20,7 M26,-7 C24,-3 24,3 26,7 M32,-7 C30,-3 30,3 32,7 "/>
</g>
<g transform="translate(1081.7,568.3) rotate(28)">
<ellipse stroke-width="3.4" cx="0" cy="0" rx="13.64" ry="22"/>
<path stroke-width="3.4" d="M-4,-21 C-14,-19 -19,-5 -17,6 C-15,16 -8,22 0,22"/>
<path stroke-width="2" d="M-8,-18 C-14,-12 -15,0 -13,10"/>
<ellipse stroke-width="3" cx="3" cy="0" rx="6" ry="9"/>
</g>
<g transform="translate(1092,500) rotate(23.4)">
<path stroke-width="3.4" d="M-12,-10 C-20,-10 -22,-2 -22,2 C-22,8 -18,11 -12,10 M-10,-16 C-2,-18 2,-12 4,-9 L40,-9 C44,-9 45,-4 45,0 C45,4 44,9 40,9 L8,9 C4,14 -4,17 -10,15 C-16,12 -16,-14 -10,-16 Z"/>
<path stroke-width="2.2" d="M-6,-15 L-10,-4 L-6,12 M0,-12 L-4,0 L0,12 M36,-9 C32,-5 32,5 36,9 M18,-7 C16,-3 16,3 18,7 M24,-7 C22,-3 22,3 24,7 M30,-7 C28,-3 28,3 30,7 M36,-7 C34,-3 34,3 36,7 "/>
</g>
<g transform="translate(1178,594) rotate(23.4)">
<ellipse stroke-width="3.4" cx="0" cy="0" rx="15" ry="26"/>
<ellipse stroke-width="2.4" cx="4" cy="0" rx="10" ry="20"/>
<path stroke-width="3.4" d="M3,-10 C8,-14 12,-9 12,-9 L62,-9 C66,-9 67,-4 67,0 C67,4 66,9 62,9 L12,9 C6,9 3,5 3,0 Z"/>
<path stroke-width="2.2" d="M58,-9 C54,-5 54,5 58,9 M4,17 L40,20"/>
<ellipse stroke-width="2.6" cx="5" cy="18" rx="4" ry="6"/>
</g>
<g transform="translate(1137.5,518.4)" stroke="none" fill="#000">
<path d="M0,0 L5,-1 L13,3 L13,11 L0,6 Z"/><path d="M0,21 L13,26 L13,34 L0,29 Z"/><path d="M0,42 L13,47 L13,56 L17,63 L15,64 L0,58 Z"/>
</g>
<path stroke-width="2.4" d="M1040,546 L1063,558 M1080,568 L1156,599 M1234,612 L1261,624"/>
<path stroke-width="4" d="M1017,550 L1017,595 M1078,589 L1078,634"/>
</g>
<path stroke-width="4" d="M1101,440 L1101,485 M1080,730 L1080,768 M1128,887 L1128,933"/>
<ellipse stroke-width="3.6" cx="1342" cy="659" rx="26" ry="28"/>
<ellipse stroke-width="3.4" cx="1351" cy="661" rx="20" ry="26" fill="#fff"/>
<ellipse stroke-width="3" cx="1350" cy="663" rx="6" ry="8"/>
<path stroke-width="2.4" d="M1349,662 L1387,679 M1414,688 L1437,699 M1287,634 L1312,646"/>
<g transform="translate(1412,687) rotate(28)">
<ellipse stroke-width="3.4" cx="0" cy="0" rx="13.02" ry="21"/>
<path stroke-width="3.4" d="M-4,-21 C-14,-19 -19,-5 -17,6 C-15,16 -8,22 0,22"/>
<path stroke-width="2" d="M-8,-18 C-14,-12 -15,0 -13,10"/>
<ellipse stroke-width="3" cx="3" cy="0" rx="6" ry="9"/>
</g>
<g stroke-width="3.6">
<path d="M1294.6,685 L1287.5,726 L1221.4,890.4 L1223,908 C1228,918 1240,924 1252,922.5 C1262,918 1268,908 1274,896 L1278.6,895.7 L1357.1,713.6 L1346,699 C1330,693 1310,687 1294.6,685 Z"/>
</g>
<g stroke-width="2.6">
<path d="M1293,694 L1352,718 M1290,707 L1349,731 M1288,720 L1345,744 M1261.6,795.7 L1309.8,813.6 M1257.1,810.9 L1303.6,828.8 M1239,842 L1289,860 M1236,855 L1285,873 M1233,865 L1282,883 M1244,873 L1230,912"/>
<ellipse cx="1249" cy="900" rx="7" ry="10.5" transform="rotate(20 1249 900)"/>
<path d="M1320,681 L1316,695 M1343,690 L1338,703"/>
<path stroke-width="3.2" d="M1342,746 L1357,752 L1352,776 L1338,772 Z M1293,860 L1312,863 L1305,897 L1290,893 Z"/>
</g>
<path stroke-width="8" d="M1339,699 C1360,701 1385,708 1398,724 C1404,734 1400,744 1384,748"/>
<path stroke="none" fill="#000" d="M1360.7,747.5 L1377.7,725 L1384,767 Z"/>
<path stroke="none" fill="#000" d="M1244.7,1072 L1267.9,1072 C1295,1040 1318,1000 1326,955 L1329,920 L1317,913 C1316,950 1312,975 1300,1000 C1285,1030 1265,1050 1244.7,1072 Z"/>
<path stroke="none" fill="#000" d="M1303.7,886 L1336,895.8 L1308.6,919 Z"/>
<path stroke-width="2.4" d="M1601,1164.3 L1695.7,1203.6 M1728.8,1217.9 L1749.3,1227.7 M1813.6,1258.9 L1838.6,1271.4 M1830.5,1249.1 L1863.6,1264.3 M1885.9,1273.2 L1912.7,1284.8 M1849.3,1326.8 L1870.7,1336.6"/>
<g transform="translate(1729.6,1217.9) rotate(23)"><path stroke-width="3.4" d="M0,-20 L-22,-20 C-30,-20 -32,-10 -32,0 C-32,10 -30,20 -22,20 L0,20"/><ellipse stroke-width="3.4" cx="0" cy="0" rx="14" ry="20" fill="#fff"/><ellipse stroke-width="2.4" cx="1" cy="0" rx="8" ry="12"/></g>
<g transform="translate(1813.6,1257.1) rotate(23)"><path stroke-width="3.4" d="M0,-9 L-55,-9 C-60,-9 -61,-4 -61,0 C-61,4 -60,9 -55,9 L0,9"/><ellipse stroke-width="3.4" cx="0" cy="0" rx="16" ry="24" fill="#fff"/><ellipse stroke-width="2.4" cx="3" cy="0" rx="11" ry="19"/><ellipse stroke-width="2.6" cx="2" cy="2" rx="6" ry="9"/><ellipse stroke-width="2.4" cx="14" cy="-14" rx="4" ry="6"/></g>
<g transform="translate(1883.2,1271.4) rotate(28)"><ellipse stroke-width="3.4" cx="0" cy="0" rx="14" ry="22"/><path stroke-width="3.4" d="M-4,-21 C-14,-19 -19,-5 -17,6 C-15,16 -8,22 0,22"/><ellipse stroke-width="3" cx="3" cy="0" rx="6" ry="9"/></g>
<g transform="translate(1917,1286) rotate(23)"><path stroke-width="3.4" d="M4,-9 L48,-9 L48,9 L4,9 C-2,9 -3,4 -3,0 C-3,-4 -2,-9 4,-9 Z"/><path stroke-width="2" d="M10,-9 C8,-3 8,3 10,9 M15,-9 C13,-3 13,3 15,9 M20,-9 C18,-3 18,3 20,9 M25,-9 C23,-3 23,3 25,9"/><path stroke-width="3.4" d="M48,-15 L62,-17 C70,-10 70,10 62,17 L48,15 C44,8 44,-8 48,-15 Z"/><path stroke-width="2" d="M55,-16 L52,0 L55,16"/></g>
<g transform="translate(1836.8,1269.6)" stroke="none" fill="#000"><path d="M0,0 L13,7 L13,16 L0,10 Z"/><path d="M0,21 L13,27 L13,36 L0,31 Z"/><path d="M0,43 L13,49 L13,55 L20,60 L0,52 Z"/></g>
<g transform="translate(1872,1340) rotate(23)"><path stroke-width="3.4" d="M4,-9 L32,-9 L32,9 L4,9 C-2,9 -3,4 -3,0 C-3,-4 -2,-9 4,-9 Z"/><path stroke-width="2" d="M10,-9 C8,-3 8,3 10,9 M15,-9 C13,-3 13,3 15,9 M20,-9 C18,-3 18,3 20,9"/><path stroke-width="3.4" d="M32,-14 C36,-18 48,-18 54,-12 C60,-4 60,8 54,14 C48,18 36,18 32,14 C28,8 28,-8 32,-14 Z"/><path stroke-width="2.4" d="M50,-6 C44,-6 44,6 50,6 L58,6 C62,4 62,-4 58,-6 Z"/></g>
<path stroke-width="4" d="M1726,1234 L1726,1279 M1800.2,1273.2 L1800.2,1318 M1887.7,1205.4 L1887.7,1250 M1948.4,1244.6 L1948.4,1291.1 M1910.9,1371.4 L1910.9,1418 M1486,1378 L1486,1422"/>
<ellipse stroke-width="8" cx="1486.5" cy="1346" rx="20.5" ry="28" transform="rotate(12 1486.5 1346)"/>
<path stroke="none" fill="#000" d="M1486.4,1279 L1528.5,1279 L1575,1197 Z"/>
</g>
<g id="boxA">
<!-- O-ring 19 -->
<ellipse cx="97.4" cy="456.9" rx="21" ry="28.5" stroke-width="6.5" transform="rotate(8 97.4 456.9)"/>
<path stroke-width="2.4" d="M78,437 C82,430 88,427 92,427"/>
<!-- flange 18 -->
<path stroke-width="3.6" d="M160.8,450.5 L201.5,460.3 L211.4,439.3 C215,436 220,436 225.4,436.5 C238,440 248,447 252,461.7 L236.6,501 L212.8,537.5 C208,541 205,542 200,540 L169.3,529.1 L142.6,503.8 C140,498 140,494 141.2,491.2 L149.6,471.6 C152,460 156,452 160.8,450.5 Z"/>
<g stroke-width="2.4">
<ellipse cx="168.6" cy="463.8" rx="5.5" ry="7" transform="rotate(20 168.6 463.8)"/>
<ellipse cx="152.4" cy="496.8" rx="5.5" ry="7" transform="rotate(20 152.4 496.8)"/>
<ellipse cx="200.1" cy="525.6" rx="5.5" ry="7" transform="rotate(20 200.1 525.6)"/>
<ellipse cx="217.7" cy="485.6" rx="5.5" ry="7" transform="rotate(20 217.7 485.6)"/>
<ellipse cx="184.7" cy="493.3" rx="19" ry="24" transform="rotate(15 184.7 493.3)"/>
<ellipse cx="185" cy="493" rx="15" ry="20" transform="rotate(15 185 493)"/>
<ellipse cx="183" cy="491" rx="8" ry="10" transform="rotate(15 183 491)"/>
<path d="M210,465 C220,468 228,476 230,485 L210,536"/>
<path d="M61.9,440.7 L105.4,460.3 M123.7,466 L191,496.1 M193.8,475.8 L218.4,486.3 M243.6,497.5 L263.3,505.2 M221,427 L231,412 M267,378 L276,360"/>
</g>
<!-- bolt 20 -->
<g transform="translate(262,503) rotate(21)">
<path stroke-width="3.2" d="M0,-7 L45,-7 M0,7 L45,7 M0,-7 C-3,-3 -3,3 0,7"/>
<path stroke-width="2" d="M8,-7 C6,-3 6,3 8,7 M13,-7 C11,-3 11,3 13,7 M18,-7 C16,-3 16,3 18,7 M23,-7 C21,-3 21,3 23,7"/>
<path stroke-width="3.2" d="M45,-12 C40,-5 40,6 45,13 L55,13 C60,8 60,-8 55,-12 Z"/>
<path stroke-width="2" d="M50,-12 C46,-5 46,6 50,13"/>
</g>
<!-- washer 21 -->
<g transform="translate(249.8,414) rotate(-30)">
<ellipse stroke-width="3.2" cx="0" cy="0" rx="25" ry="17"/>
<ellipse stroke-width="3" cx="-2" cy="1" rx="10" ry="7"/>
</g>
<!-- fitting 22 -->
<g transform="translate(291,340) rotate(-61.5)">
<path stroke-width="3.2" d="M-42,-13 L-10,-13 L-10,-19 L10,-19 L10,-13 L40,-13 C44,-13 45,-8 45,0 C45,8 44,13 40,13 L10,13 L10,19 L-10,19 L-10,13 L-42,13 C-46,13 -47,8 -47,0 C-47,-8 -46,-13 -42,-13 Z"/>
<path stroke-width="2" d="M-38,-13 L-38,13 M-33,-13 L-33,13 M-28,-13 L-28,13 M-23,-13 L-23,13 M-18,-13 L-18,13 M16,-13 L16,13 M21,-13 L21,13 M26,-13 L26,13 M31,-13 L31,13 M36,-13 L36,13 M-10,-6 L10,-6 M-10,6 L10,6"/>
<ellipse stroke-width="2.6" cx="-44" cy="0" rx="3" ry="8"/>
</g>
<!-- elbow 23 left -->
<g stroke-width="3.2">
<path d="M305,250 L330,238 L353,244 L360,260 L362,280 L345,290 L318,290 L302,275 Z"/>
<ellipse cx="326" cy="276" rx="22" ry="12" transform="rotate(15 326 276)"/>
<path stroke-width="2.6" d="M328,268 C328,262 338,262 342,268"/>
<path d="M330,238 L343,213 C347,209 355,210 360,212 C370,215 375,222 370,230 L352,246"/>
<path stroke-width="2.4" d="M342,232 L347,221 L362,224 L358,236 Z"/>
<path d="M370,214 L388,226 C394,230 394,240 388,248 L372,252"/>
<path stroke-width="2" d="M375,218 C380,225 380,240 375,250 M381,222 C386,229 386,240 381,249"/>
</g>
<!-- elbow 23 right -->
<g stroke-width="3.2">
<ellipse cx="449" cy="272" rx="15" ry="20" transform="rotate(10 449 272)"/>
<ellipse cx="449" cy="271" rx="8" ry="12" transform="rotate(10 449 271)"/>
<path d="M455,251 L475,248 C488,255 495,275 492,295 L478,322 C470,330 455,333 445,330"/>
<path stroke-width="2" d="M461,255 C470,265 472,285 465,300 M468,252 C477,262 480,285 473,305"/>
<path d="M450,317 C445,322 446,332 452,336 L468,341 C478,340 485,330 482,320 L470,312"/>
<path stroke-width="2" d="M455,323 L476,330 M453,328 L474,336"/>
</g>
<!-- hose with fitting -->
<g stroke-width="3.2">
<path d="M420,339 L440,333 L470,345 L475,363 L465,373 L445,374 L418,360 Z"/>
<path stroke-width="2.4" d="M420,340 L445,355 L470,347 M445,355 L445,374"/>
<path d="M418,362 L411,372 L398,404 M465,373 L450,383 L432,420"/>
<path stroke-width="2.4" d="M398,404 L432,418 M399,408 L431,422"/>
<path d="M398,404 C375,450 360,500 358,540 C357,570 368,590 384,598"/>
<path d="M432,420 C410,460 395,510 394,545 C393,570 410,590 433,598"/>
</g>
<!-- leaders -->
<g stroke-width="4">
<path d="M354.4,164 L354.4,213 M449.8,194 L449.8,245 M234.3,308.8 L270.4,326 M199,382.9 L230,396.7 M104.8,385.5 L104.8,426 M312.4,470.2 L312.4,512.2 M153.8,519.3 L153.8,564.9"/>
</g>

</g>
<g id="boxC">
<path stroke-width="3.4" d="M2053,537.5 C2080,538 2110,539 2142,541 M2053,573.6 C2080,574 2105,575 2130,577"/>
<path stroke-width="3.4" d="M2142,540 L2191,548 L2191,595 L2145,584 C2133,580 2128,570 2130,556 C2132,545 2136,540 2142,540 Z"/>
<g transform="translate(2208,576) rotate(10)"><path stroke-width="3.4" d="M-24,-20 L0,-31 L22,-25 L28,0 L22,25 L0,31 L-24,22 L-28,0 Z"/><path stroke-width="2.2" d="M-24,-20 L-8,-15 L-8,15 L-24,22 M-8,-15 L22,-25 M-8,15 L22,25 M-33,-18 L-33,20 M-37,-16 L-37,18"/><ellipse stroke-width="3.4" cx="4" cy="0" rx="12" ry="17"/><ellipse stroke-width="2.2" cx="6" cy="0" rx="7" ry="12"/></g>
<path stroke-width="2.4" d="M2218,576.5 L2245,582.3"/>
<g transform="translate(2295,594) rotate(12) scale(1.0)">
<path stroke-width="3.2" d="M-40,-14 L-14,-14 L-14,14 L-40,14 C-45,12 -46,-12 -40,-14 Z"/>
<path stroke-width="2" d="M-35.2,-14 C-38.2,-4.0 -38.2,4.0 -35.2,14 M-29.8,-14 C-32.8,-4.0 -32.8,4.0 -29.8,14 M-24.2,-14 C-27.2,-4.0 -27.2,4.0 -24.2,14 M-18.8,-14 C-21.8,-4.0 -21.8,4.0 -18.8,14 "/>
<path stroke-width="3.2" d="M-14,-24 L4,-31 L20,-26 L24,0 L20,26 L4,31 L-14,24 L-18,0 Z"/>
<path stroke-width="2.2" d="M-14,-24 L-4,-18 L-4,18 L-14,24 M-4,-18 L20,-26 M-4,18 L20,26"/>
<path stroke-width="3.2" d="M16,-22 L36,-22 C44,-18 46,18 36,22 L16,22"/>
<path stroke-width="2" d="M20.0,-22 C17.0,-4.0 17.0,4.0 20.0,22 M24.0,-22 C21.0,-4.0 21.0,4.0 24.0,22 M28.0,-22 C25.0,-4.0 25.0,4.0 28.0,22 M32.0,-22 C29.0,-4.0 29.0,4.0 32.0,22 "/>
<ellipse stroke-width="3.2" cx="36" cy="0" rx="10" ry="17"/>
<ellipse stroke-width="2" cx="38" cy="0" rx="6" ry="11"/>
</g>
<g transform="translate(2392,616) rotate(12) scale(1.0)">
<path stroke-width="3.2" d="M-40,-14 L-14,-14 L-14,14 L-40,14 C-45,12 -46,-12 -40,-14 Z"/>
<path stroke-width="2" d="M-35.2,-14 C-38.2,-4.0 -38.2,4.0 -35.2,14 M-29.8,-14 C-32.8,-4.0 -32.8,4.0 -29.8,14 M-24.2,-14 C-27.2,-4.0 -27.2,4.0 -24.2,14 M-18.8,-14 C-21.8,-4.0 -21.8,4.0 -18.8,14 "/>
<path stroke-width="3.2" d="M-14,-24 L4,-31 L20,-26 L24,0 L20,26 L4,31 L-14,24 L-18,0 Z"/>
<path stroke-width="2.2" d="M-14,-24 L-4,-18 L-4,18 L-14,24 M-4,-18 L20,-26 M-4,18 L20,26"/>
<path stroke-width="3.2" d="M16,-22 L36,-22 C44,-18 46,18 36,22 L16,22"/>
<path stroke-width="2" d="M20.0,-22 C17.0,-4.0 17.0,4.0 20.0,22 M24.0,-22 C21.0,-4.0 21.0,4.0 24.0,22 M28.0,-22 C25.0,-4.0 25.0,4.0 28.0,22 M32.0,-22 C29.0,-4.0 29.0,4.0 32.0,22 "/>
<ellipse stroke-width="3.2" cx="36" cy="0" rx="10" ry="17"/>
<ellipse stroke-width="2" cx="38" cy="0" rx="6" ry="11"/>
</g>
<path stroke-width="2.4" d="M2321.6,599.5 L2350.3,605.2 M2423,622.3 L2467,630.9"/>
<g transform="translate(2520,643) rotate(10)">
<path stroke-width="3.2" d="M-42,-18 L-22,-18 L-22,18 L-42,18 C-48,14 -48,-14 -42,-18 Z"/>
<path stroke-width="2" d="M-38.0,-18 C-41.0,-4.0 -41.0,4.0 -38.0,18 M-34.0,-18 C-37.0,-4.0 -37.0,4.0 -34.0,18 M-30.0,-18 C-33.0,-4.0 -33.0,4.0 -30.0,18 M-26.0,-18 C-29.0,-4.0 -29.0,4.0 -26.0,18 "/>
<path stroke-width="3.2" d="M-22,-14 L22,-14 M-22,14 L-8,14 L-8,40 L12,40 L12,14 L22,14"/>
<path stroke-width="2.2" d="M-18,6 L14,6 L14,22"/>
<path stroke-width="3.2" d="M22,-18 L44,-18 C52,-14 52,14 44,18 L22,18"/>
<path stroke-width="2" d="M26.2,-18 C23.2,-4.0 23.2,4.0 26.2,18 M30.8,-18 C27.8,-4.0 27.8,4.0 30.8,18 M35.2,-18 C32.2,-4.0 32.2,4.0 35.2,18 M39.8,-18 C36.8,-4.0 36.8,4.0 39.8,18 "/>
<ellipse stroke-width="3.2" cx="44" cy="0" rx="8" ry="14"/>
<path stroke-width="3.2" d="M-14,40 L18,40 L18,58 L-14,58 Z"/>
<path stroke-width="2" d="M-14,43.8 L18,43.8 M-14,47.2 L18,47.2 M-14,50.8 L18,50.8 M-14,54.2 L18,54.2 "/>
</g>
<path stroke-width="2.4" d="M2560.7,652.9 L2608.5,662.4 M2681.2,679.6 L2715.6,686.3 M2682,679 L2716,687 M2800.7,707.6 L2830.3,712.7 M2533.9,704.5 L2547,750"/>
<g transform="translate(2650,671) rotate(12)">
<ellipse stroke-width="3" cx="-20" cy="0" rx="10" ry="30"/>
<path stroke-width="3.2" d="M-20,-30 L0,-33 L18,-24 L22,0 L18,26 L0,33 L-20,30"/>
<path stroke-width="2.2" d="M-10,-30 L-6,-6 L-6,20 L-10,32 M-6,-6 L20,-12 M-6,20 L20,18"/>
<path stroke-width="3.2" d="M14,-16 L34,-16 C40,-12 40,12 34,16 L14,16"/>
<path stroke-width="2" d="M18.0,-16 C15.0,-4.0 15.0,4.0 18.0,16 M22.0,-16 C19.0,-4.0 19.0,4.0 22.0,16 M26.0,-16 C23.0,-4.0 23.0,4.0 26.0,16 M30.0,-16 C27.0,-4.0 27.0,4.0 30.0,16 "/>
<ellipse stroke-width="3" cx="34" cy="0" rx="7" ry="12"/>
</g>
<g transform="translate(2752,695) rotate(12)">
<ellipse stroke-width="3" cx="-22" cy="0" rx="10" ry="30"/>
<path stroke-width="3.2" d="M-22,-30 L-2,-33 L16,-24 L20,0 L16,26 L-2,33 L-22,30"/>
<path stroke-width="2.2" d="M-12,-30 L-8,-6 L-8,20 L-12,32"/>
<path stroke-width="3.2" d="M4,-16 L50,-16 C56,-12 56,12 50,16 L4,16"/>
<path stroke-width="2" d="M32.2,-16 C29.2,-4.0 29.2,4.0 32.2,16 M36.8,-16 C33.8,-4.0 33.8,4.0 36.8,16 M41.2,-16 C38.2,-4.0 38.2,4.0 41.2,16 M45.8,-16 C42.8,-4.0 42.8,4.0 45.8,16 "/>
<ellipse stroke-width="3" cx="50" cy="0" rx="7" ry="12"/>
</g>
<g transform="translate(2858,713) rotate(12)">
<path stroke-width="3.2" d="M-18,-26 L-4,-31 L10,-26 L14,0 L10,26 L-4,31 L-18,26 L-22,0 Z"/>
<path stroke-width="2.2" d="M-18,-26 L-10,-16 L-10,16 L-18,26 M4,-24 L4,24 M8,-24 L8,24"/>
<path stroke-width="3.2" d="M12,-24 L76,-24 M12,24 L76,24"/>
<path stroke-width="2.4" d="M72,-24 C66,-14 66,14 72,24 M76,-24 C70,-14 70,14 76,24"/>
</g>
<path stroke-width="3.4" d="M2934.6,708.9 L3029,732 M2919,745 L3029,768.1"/>
<path stroke-width="3.4" d="M2793,476 L2793,655 C2800,662 2810,652 2818,657 C2824,660 2830,660 2833,655 L2833,476"/>
<path stroke-width="3.4" d="M2790.5,439.3 L2790.5,470 C2800,478 2826,478 2836.4,470 L2836.4,439.3"/>
<path stroke-width="3.4" d="M2783,420 L2790,411 L2836,411 L2844,420 L2844,432 L2836,440 L2790,440 L2783,432 Z"/>
<path stroke-width="2.2" d="M2799,415 L2799,438 M2828,415 L2828,438"/>
<path stroke-width="3.2" d="M2796,421 L2796,395 C2805,389 2822,389 2832,395 L2832,421"/>
<path stroke-width="2" d="M2798,399.0 L2830,399.0 M2798,405.0 L2830,405.0 M2798,411.0 L2830,411.0 M2798,417.0 L2830,417.0 "/>
<path stroke-width="2.6" d="M2813.5,375.5 L2813.5,396 M2813.5,319.4 L2813.5,348.7 M2813.5,207 L2813.5,265.8"/>
<ellipse stroke-width="3.2" cx="2813.5" cy="355.3" rx="30" ry="15"/><ellipse stroke-width="2.6" cx="2813.5" cy="354" rx="16" ry="7"/>
<path stroke-width="3.4" d="M2784,265 L2784,306 C2795,320 2830,320 2841.5,306 L2841.5,265 C2830,250 2795,250 2784,265 Z"/>
<path stroke-width="2.2" d="M2797,275 L2797,314 M2827,275 L2827,314 M2784,268 L2797,275 L2827,275 L2841,268"/><ellipse stroke-width="2.6" cx="2813" cy="263" rx="14" ry="6"/>
<path stroke-width="3.2" d="M2799.4,169 L2799.4,146 C2806,140 2822,140 2827.5,146 L2827.5,169 M2793,174 L2799,165 L2828,165 L2833,174 L2828,183 L2799,183 Z M2799.4,183 L2799.4,201 C2806,206 2822,206 2827.5,201 L2827.5,183"/>
<path stroke-width="2" d="M2801,151.0 L2826,151.0 M2801,157.0 L2826,157.0 M2801,163.0 L2826,163.0 "/>
<path stroke-width="2" d="M2801,187.7 L2826,187.7 M2801,193.0 L2826,193.0 M2801,198.3 L2826,198.3 "/>
<ellipse stroke-width="2.4" cx="2813.5" cy="145" rx="9" ry="3.5"/>
<path stroke-width="3.2" d="M2868.3,128 L2878,116 L2906,116 L2915.5,128 L2915.5,140 L2906,148 L2878,148 L2868.3,140 Z M2878.5,148 L2878.5,170 C2886,175 2900,175 2906.6,170 L2906.6,148 M2878,128 L2906,128 M2890,128 L2890,148"/>
<path stroke-width="2" d="M2880,154.0 L2905,154.0 M2880,160.0 L2905,160.0 M2880,166.0 L2905,166.0 "/>
<g stroke="none" fill="#000"><path d="M2890,174 L2895,174 L2895,205 L2880,210 L2880,197 Z"/><path d="M2874,205 L2874,218 L2860,223 L2860,210 Z"/><path d="M2852,213 L2852,226 L2837,232 L2837,220 Z"/><path d="M2830,222 L2830,236 C2822,238 2816,245 2815,252 L2812,252 C2812,238 2818,226 2830,222 Z"/></g>
<g transform="translate(2398,436)"><path stroke-width="3.2" d="M-18,-8 L-10,-17 L10,-17 L19,-6 L17,10 L8,18 L-10,18 L-19,8 Z"/><ellipse stroke-width="2.6" cx="0" cy="-3" rx="10" ry="8"/><ellipse stroke-width="2" cx="0" cy="-4" rx="5" ry="4"/><path stroke-width="2" d="M-16,4 L-6,10 L12,10"/></g>
<g transform="translate(2417,497)"><path stroke-width="3.2" d="M-18,6 C-16,-4 -4,-14 8,-14 C18,-14 22,-6 20,4 C18,12 10,16 -4,14 C-12,13 -18,10 -18,6 Z"/><path stroke-width="2.6" d="M-10,5 L0,-6 L8,6 Z"/></g>
<path stroke-width="2.4" d="M2381.5,375 L2394,425 M2406.5,457.5 L2420,487 M2424,517.5 L2472,664"/>
<path stroke-width="19.5" d="M2443,702 L2463,752 C2468,766 2485,770 2491,755 C2494,745 2493,735 2490,725 L2473,668"/>
<path stroke-width="14" stroke="#fff" d="M2443,702 L2463,752 C2468,766 2485,770 2491,755 C2494,745 2493,735 2490,725 L2473,668"/>
<path stroke-width="2.4" d="M2434,702 L2452,697 M2464,670 L2482,665"/>
<path stroke-width="2" d="M2437,712 L2454,706 M2439,718 L2456,712 M2441,724 L2458,718 M2466,678 L2484,673 M2468,684 L2486,679 M2470,690 L2487,685"/>
<g transform="translate(2550,763) rotate(-15)"><path stroke-width="3.2" d="M-24,-16 L-10,-27 L12,-27 L26,-14 L26,10 L12,22 L-12,22 L-26,10 Z"/><ellipse stroke-width="3" cx="0" cy="-14" rx="16" ry="10"/><ellipse stroke-width="2.4" cx="0" cy="-14" rx="9" ry="6"/><path stroke-width="2.2" d="M-26,-6 L-10,2 L12,2 L26,-8 M-10,2 L-10,22 M12,2 L12,22"/></g>
<path stroke-width="3.2" d="M2535,786 L2548,833 C2555,840 2575,838 2590,828 L2580,783"/>
<path stroke-width="3.4" d="M2561,839 C2570,865 2590,888 2620,900 C2650,908 2690,905 2730,893 C2770,880 2800,860 2815,835 C2822,820 2826,805 2826,790 C2820,783 2810,788 2805,784 C2800,780 2795,780 2793,785 C2790,810 2780,825 2765,838 C2740,855 2700,865 2660,868 C2630,868 2610,855 2592,828"/>
<g stroke-width="4"><path d="M2734.4,172.7 L2793,172.7 M2906.6,149.7 L2936,149.7 M2726.7,290 L2784,290 M2724.2,356.4 L2783,356.4 M2733.1,459.7 L2790.5,459.7 M2319,439 L2378,439 M2339,502.5 L2399,502.5 M2533.9,572.5 L2533.9,633.7 M2654.4,581.1 L2654.4,640.4 M2748.2,609.8 L2748.2,666.3 M2293.9,623.4 L2293.9,680.8 M2390.5,644.4 L2390.5,701.8 M2467,769.6 L2467,827"/></g>
</g>
<g id="boxB">
<ellipse cx="2769.7" cy="1068.2" rx="21.5" ry="28.5" stroke-width="6.5" transform="rotate(8 2769.7 1068.2)"/>
<path stroke-width="2.4" d="M2751,1050 C2754,1043 2759,1040 2763,1039"/>
<path stroke-width="3.6" d="M2834.7,1091.1 C2840,1078 2850,1070 2860.7,1069.7 L2917.4,1078.9 C2926,1082 2930,1088 2929.6,1095.7 L2888.3,1184.5 C2885,1190 2875,1192 2868.4,1189.1 L2857.7,1183 C2845,1178 2842,1172 2845.4,1166.1 L2856.1,1144.7 L2828.6,1130.9 C2822,1127 2821,1122 2824,1116 L2834.7,1091.1 Z"/>
<g stroke-width="2.4">
<ellipse cx="2851.5" cy="1085" rx="5.5" ry="7" transform="rotate(30 2851.5 1085)"/>
<ellipse cx="2911.2" cy="1092.7" rx="5.5" ry="7" transform="rotate(30 2911.2 1092.7)"/>
<ellipse cx="2836.2" cy="1118.7" rx="5.5" ry="7" transform="rotate(30 2836.2 1118.7)"/>
<ellipse cx="2893.6" cy="1130.9" rx="5.5" ry="7" transform="rotate(30 2893.6 1130.9)"/>
<ellipse cx="2876" cy="1110" rx="18" ry="24" transform="rotate(20 2876 1110)"/>
<ellipse cx="2877" cy="1110" rx="14" ry="20" transform="rotate(20 2877 1110)"/>
<ellipse cx="2875" cy="1108" rx="8" ry="10" transform="rotate(20 2875 1108)"/>
<path d="M2923,1088 L2882,1184"/>
<path d="M2731.4,1052.1 L2779.6,1072.8 M2794.1,1078.9 L2873,1112.6 M2863,1121 L2892.1,1132.5 M2914.3,1142.4 L2939.6,1153.9 M2866,1203 L2880,1175 M2830,1250 L2840,1228 M2787,1348 L2796,1330"/>
</g>
<ellipse stroke-width="3.2" cx="2878" cy="1178" rx="15" ry="10" transform="rotate(20 2878 1178)"/>
<!-- bolt 20 -->
<g transform="translate(2947,1157) rotate(22)">
<path stroke-width="3.2" d="M0,-7 L42,-7 M0,7 L42,7 M0,-7 C-4,-3 -4,3 0,7"/>
<path stroke-width="2" d="M8,-7 C6,-3 6,3 8,7 M13,-7 C11,-3 11,3 13,7 M18,-7 C16,-3 16,3 18,7 M23,-7 C21,-3 21,3 23,7"/>
<path stroke-width="3.2" d="M42,-12 C37,-5 37,6 42,13 L52,13 C57,8 57,-8 52,-12 Z"/>
</g>
<!-- washer 21 -->
<g transform="translate(2844.6,1220.4) rotate(28)">
<ellipse stroke-width="3.2" cx="0" cy="0" rx="27" ry="17"/>
<ellipse stroke-width="3" cx="-2" cy="1" rx="12" ry="7"/>
</g>
<!-- fitting 22 -->
<g transform="translate(2809,1292) rotate(-65)">
<path stroke-width="3.2" d="M-42,-14 L-10,-14 L-10,-20 L10,-20 L10,-14 L40,-14 C44,-14 45,-8 45,0 C45,8 44,14 40,14 L10,14 L10,20 L-10,20 L-10,14 L-42,14 C-46,14 -47,8 -47,0 C-47,-8 -46,-14 -42,-14 Z"/>
<path stroke-width="2" d="M-38,-14 L-38,14 M-33,-14 L-33,14 M-28,-14 L-28,14 M-23,-14 L-23,14 M-18,-14 L-18,14 M16,-14 L16,14 M21,-14 L21,14 M26,-14 L26,14 M31,-14 L31,14 M36,-14 L36,14 M-10,-6 L10,-6 M-10,6 L10,6"/>
</g>
<!-- hose -->
<g stroke-width="3.2">
<path d="M2748,1358 L2768,1350 L2800,1360 L2808,1378 L2800,1394 L2780,1396 L2748,1380 Z"/>
<path stroke-width="2.4" d="M2749,1360 L2778,1374 L2806,1366 M2778,1374 L2776,1396"/>
<path d="M2746,1386 L2726.7,1426 L2713.7,1462 M2782.6,1401.5 L2764.2,1438.2 L2750.4,1462"/>
<path stroke-width="2.2" d="M2731,1420 C2745,1422 2760,1430 2765,1437"/>
</g>
<g stroke-width="4">
<path d="M2896.7,1017.7 L2896.7,1074.3 M2968.6,1098 L2968.6,1156.9 M2765.8,1099.5 L2765.8,1154.7 M2873,1232.7 L2929.6,1232.7 M2730.5,1284.3 L2785.6,1284.3"/>
</g>

</g>
<g id="boxE">
<!-- bolt 44 -->
<path stroke-width="3.2" d="M2310.3,1526 L2318,1516 L2337,1516 L2344.2,1526 L2344.2,1532 L2337,1539 L2318,1539 L2310.3,1532 Z M2318,1526 L2337,1526 M2327,1526 L2327,1539"/>
<path stroke-width="3.2" d="M2317.6,1539 L2317.6,1603 C2322,1607 2332,1607 2337,1603 L2337,1539"/>
<path stroke-width="2" d="M2320,1560 L2335,1560 M2320,1566 L2335,1566 M2320,1572 L2335,1572 M2320,1578 L2335,1578 M2320,1584 L2335,1584 M2320,1590 L2335,1590 M2320,1596 L2335,1596"/>
<path stroke-width="2.4" d="M2327.3,1606.7 L2327.3,1645.5 M2327.3,1688 L2327.3,1705 M2327.3,1730 L2327.3,1765 M2327.3,1807.9 L2327.3,1839.4"/>
<!-- plate 43 -->
<path stroke-width="3.2" d="M2259.4,1667.3 L2368.5,1621.2 L2395.2,1632.1 L2395.2,1638.2 L2283.6,1683 L2259.4,1672.1 Z"/>
<path stroke-width="2" d="M2262,1668 L2285,1678 L2394,1633 M2285,1678 L2284,1683 M2300,1660 L2380,1628"/>
<ellipse stroke-width="2.6" cx="2327" cy="1647" rx="10" ry="4"/>
<!-- upper clamp half -->
<path stroke-width="3.2" d="M2259.4,1706.1 L2368.5,1661.2 L2394,1672.1 L2394,1706 L2385,1710 C2382,1698 2375,1692 2368,1694 C2360,1696 2353,1705 2350,1722 L2325,1733 C2322,1720 2315,1712 2307,1713 C2300,1714 2293,1725 2292,1745 L2284.8,1749.7 L2259.4,1740 Z"/>
<path stroke-width="2" d="M2259.4,1706.1 L2284.8,1717 L2394,1672.1 M2284.8,1717 L2284.8,1749.7"/>
<ellipse stroke-width="2.6" cx="2327" cy="1689" rx="10" ry="4"/>
<!-- lower clamp half -->
<path stroke-width="3.2" d="M2259.4,1782.4 L2270.3,1777.6 L2292.1,1788.5 C2293,1772 2300,1760 2310,1757 L2350,1741 C2355,1738 2362,1736 2368.5,1738.8 L2394,1748.5 L2394,1781.2 L2284.8,1827.3 L2259.4,1815.2 Z"/>
<path stroke-width="2" d="M2259.4,1782.4 L2284.8,1793 L2284.8,1827.3 M2284.8,1793 L2292,1790 M2310,1757 L2332,1768 L2350,1760 M2368.5,1738.8 C2360,1745 2352,1760 2350,1778 C2355,1782 2370,1780 2379,1776 M2310,1757 C2302,1765 2295,1780 2292,1795 C2296,1805 2310,1807 2318,1800 C2322,1790 2323,1775 2320,1765"/>
<ellipse stroke-width="2.6" cx="2327" cy="1765" rx="10" ry="4"/>
<!-- nut 45 -->
<g transform="translate(2327,1848)"><path stroke-width="3.2" d="M-18,-4 L-10,-13 L10,-13 L18,-4 L18,6 L10,13 L-10,13 L-18,6 Z"/><ellipse stroke-width="2.4" cx="0" cy="-6" rx="10" ry="5"/><path stroke-width="2" d="M-18,-2 L-8,3 L8,3 L18,-2 M-8,3 L-8,13 M8,3 L8,13"/></g>
<g stroke-width="4">
<path d="M2337,1561.8 L2395.2,1561.8 M2395.2,1634.5 L2450.9,1634.5 M2394,1696.4 L2458.2,1719.4 L2394,1760.6 M2345.5,1847.9 L2401.2,1847.9"/>
</g>

</g>
<g id="boxD">
<path stroke-width="3.6" d="M2763.2,1626.2 L2681.9,1632.6 C2672,1634 2666,1640 2667.5,1648.5 L2699.4,1698 C2702,1703 2708,1706 2713.8,1706 L2811,1690 C2822,1688 2827,1678 2825.4,1669.3 C2824,1666 2822,1665 2819,1664.5 L2774.3,1627.8"/>
<path stroke-width="2.4" d="M2702.6,1694.8 L2819,1669.3 M2700,1690 C2705,1697 2712,1700 2720,1699 L2815,1683"/>
<path stroke-width="3.4" d="M2717,1706 C2719,1718 2725,1728 2738,1729 C2760,1730 2785,1722 2796.7,1696.4"/>
<path stroke-width="2.2" d="M2722,1712 C2740,1720 2770,1715 2792,1700 M2728,1720 C2745,1726 2770,1720 2789,1708"/>
<ellipse stroke-width="2.8" cx="2689" cy="1651.7" rx="10" ry="6" transform="rotate(-25 2689 1651.7)"/>
<ellipse stroke-width="2.8" cx="2796" cy="1672.5" rx="10" ry="6" transform="rotate(-25 2796 1672.5)"/>
<path stroke-width="2.4" d="M2755.2,1603.9 L2795.1,1669.3 M2809.4,1697.2 L2827,1724.3 M2838.1,1744.2 L2854,1771.3"/>
<g transform="translate(2838,1730) rotate(-30)"><ellipse stroke-width="3.2" cx="0" cy="0" rx="20" ry="15"/><ellipse stroke-width="2.8" cx="1" cy="0" rx="9" ry="6"/></g>
<g transform="translate(2855,1773) rotate(60)">
<path stroke-width="3.2" d="M0,-7 L26,-7 M0,7 L26,7 M0,-7 C-3,-3 -3,3 0,7"/>
<path stroke-width="2" d="M6,-7 C4,-3 4,3 6,7 M11,-7 C9,-3 9,3 11,7 M16,-7 C14,-3 14,3 16,7 M21,-7 C19,-3 19,3 21,7"/>
<path stroke-width="3.2" d="M26,-16 L40,-16 C46,-8 46,8 40,16 L26,16 C22,8 22,-8 26,-16 Z"/>
<path stroke-width="2" d="M32,-16 L30,0 L32,16"/>
</g>
<g stroke-width="4">
<path d="M2822.2,1668.5 L2876.4,1668.5 M2846.9,1723.5 L2903.5,1723.5 M2796.7,1792 L2855.6,1792"/>
</g>

</g>
</g>
<g class="n">
<text x="352" y="158.5">23</text>
<text x="451.5" y="187">23</text>
<text x="211" y="312">22</text>
<text x="105" y="375">19</text>
<text x="171.5" y="385">21</text>
<text x="309" y="464">20</text>
<text x="154" y="603">18</text>
<text x="1104" y="433">14</text>
<text x="1016.5" y="633">12</text>
<text x="1076.5" y="671">13</text>
<text x="1081.5" y="721">14</text>
<text x="1211.5" y="537">11</text>
<text x="1286" y="559">17</text>
<text x="1346.5" y="580">16</text>
<text x="1412.5" y="612">17</text>
<text x="956" y="890">12</text>
<text x="1023" y="930">13</text>
<text x="1127" y="961">15</text>
<text x="1840.5" y="228">26</text>
<text x="1460.5" y="300">24</text>
<text x="2000.5" y="368.5">33</text>
<text x="1635.5" y="438">24</text>
<text x="1769.5" y="496">25</text>
<text x="1901" y="958">8</text>
<text x="1921.5" y="1150">10</text>
<text x="1887" y="1196">13</text>
<text x="1948" y="1237.5">12</text>
<text x="1725" y="1318">9</text>
<text x="1794.5" y="1354">11</text>
<text x="1910" y="1458">14</text>
<text x="1485.5" y="1462">41</text>
<text x="2701.5" y="190">36</text>
<text x="2966" y="163.5">37</text>
<text x="2694" y="306">34</text>
<text x="2691.5" y="374">35</text>
<text x="2703" y="473">33</text>
<text x="2289" y="455">32</text>
<text x="2307" y="520">31</text>
<text x="2533.5" y="562">27</text>
<text x="2654.5" y="575">28</text>
<text x="2747" y="604">29</text>
<text x="2294" y="722">29</text>
<text x="2393" y="745">28</text>
<text x="2465.5" y="871">30</text>
<text x="2896.5" y="1003">18</text>
<text x="2965" y="1089">20</text>
<text x="2766.5" y="1194">19</text>
<text x="2959" y="1250">21</text>
<text x="2698.5" y="1297">22</text>
<text x="2434" y="1577">44</text>
<text x="2490" y="1650">43</text>
<text x="2490" y="1736">42</text>
<text x="2441" y="1864">45</text>
<text x="2917" y="1684.5">38</text>
<text x="2942" y="1738.5">39</text>
<text x="2761.5" y="1807">40</text>
<text x="100.5" y="1542">6</text>
<text x="834" y="1723">1</text>
<text x="817" y="1823">2</text>
<text x="91" y="1876">4</text>
<text x="104" y="1963">5</text>
<text x="386" y="1996">3</text>
<text x="889" y="1998">4</text>
<text x="1286" y="1574">6</text>
<text x="1299.5" y="1689">7</text>
<text x="1266.5" y="1783">5</text>
</g>
<g font-family="Liberation Sans" font-weight="bold" fill="#000">
<text x="1442" y="1933" font-size="23.2" textLength="197" lengthAdjust="spacingAndGlyphs">Volvo Construction</text>
<text x="1488.5" y="1955.7" font-size="23.2" textLength="111" lengthAdjust="spacingAndGlyphs">Equipment</text>
<text x="1477" y="2001" font-size="42" textLength="136.5" lengthAdjust="spacingAndGlyphs">DD 467</text>
</g>
</svg>
</body></html>
